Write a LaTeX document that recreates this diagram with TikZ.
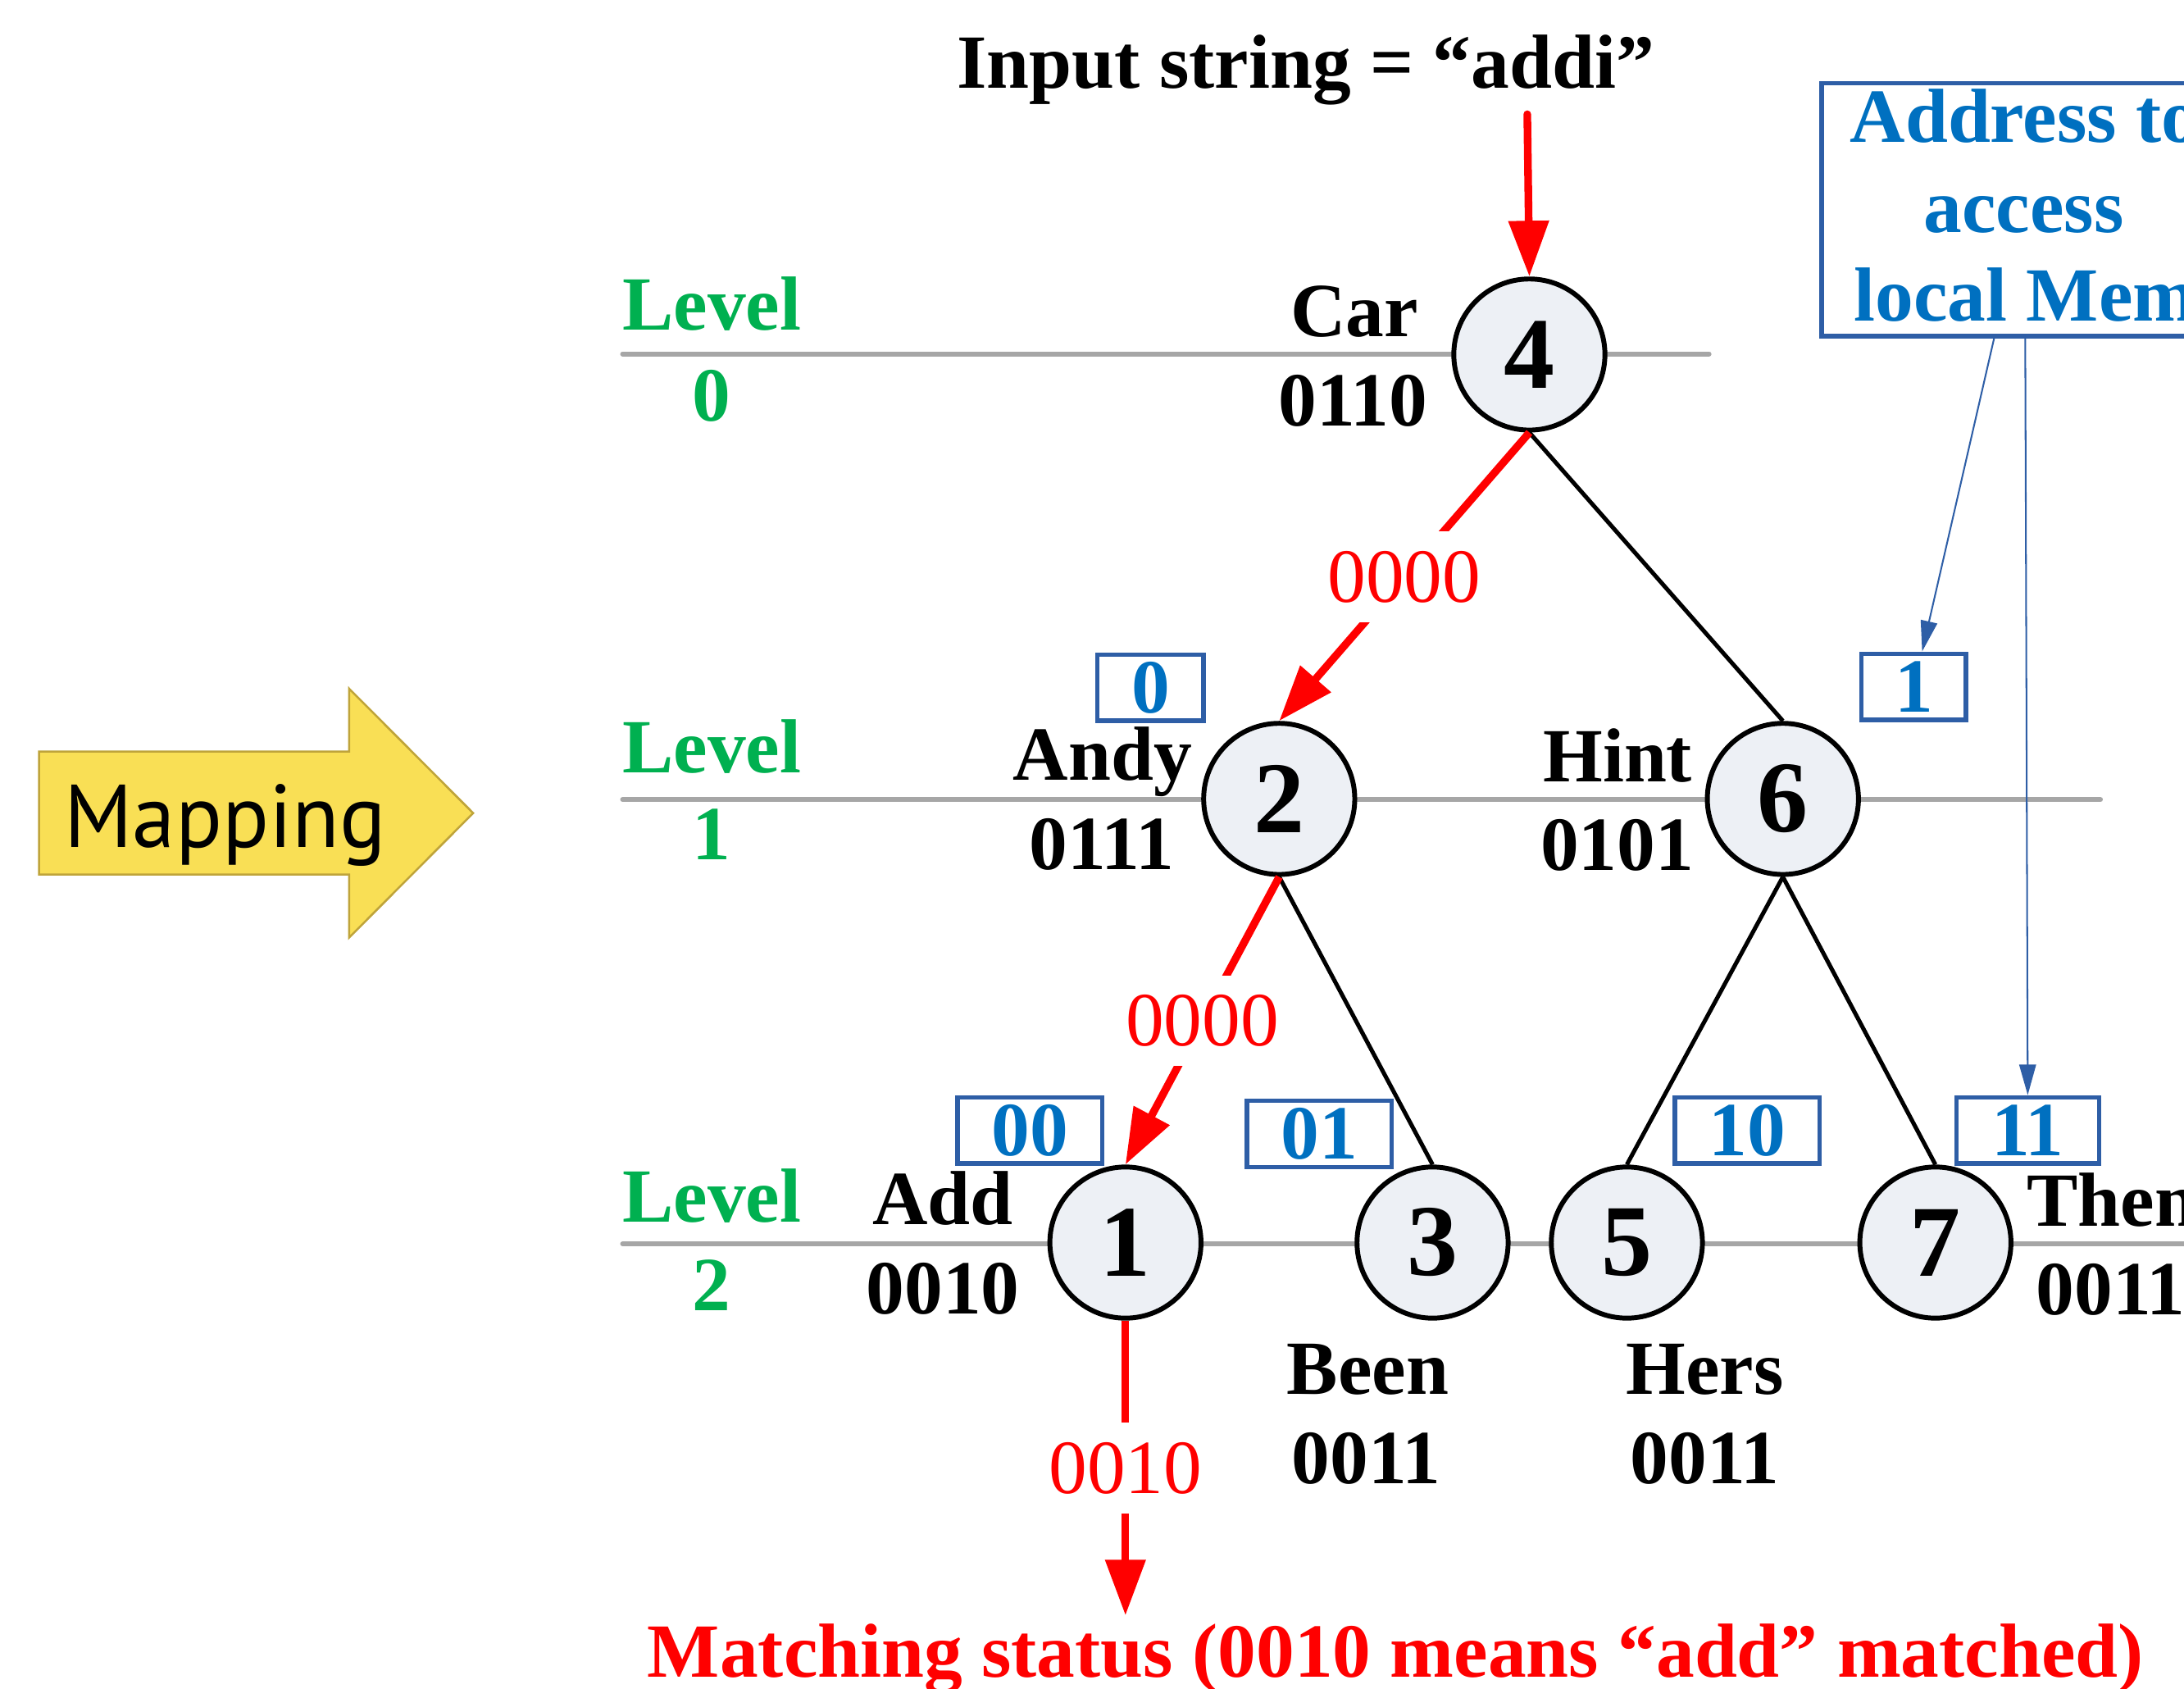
\documentclass[tikz,border=0pt]{standalone}
\usepackage{fontspec}
\setmainfont{Liberation Serif}
\newfontfamily\mapfont{PT Sans}
\usetikzlibrary{arrows.meta,calc}
\definecolor{redc}{HTML}{FF0000}
\definecolor{bluet}{HTML}{0070C0}
\definecolor{blueb}{HTML}{2E5EA6}
\definecolor{greenc}{HTML}{00B050}
\definecolor{grayl}{HTML}{A6A6A6}
\definecolor{nodefill}{HTML}{EDF0F5}
\definecolor{yellowf}{HTML}{F9DF55}
\definecolor{yellowd}{HTML}{BFA43A}
\begin{document}
\begin{tikzpicture}[x=1bp,y=-1bp,
  txt/.style={font=\fontsize{55bp}{60bp}\selectfont\bfseries, inner sep=0pt, anchor=base},
  lvl/.style={txt, text=greenc},
  tree/.style={circle, draw=black, line width=3.5bp, fill=nodefill, minimum size=108.5bp, inner sep=0pt, font=\fontsize{73bp}{80bp}\selectfont\bfseries},
  addr/.style={draw=blueb, line width=3.2bp, text=bluet, font=\fontsize{55bp}{60bp}\selectfont\bfseries, minimum height=47.5bp, inner sep=0pt},
  levelline/.style={draw=grayl, line width=3.5bp, line cap=round},
  redarrow/.style={draw=redc, line width=5.5bp, -{Triangle[length=40bp,width=28bp]}},
  redlabel/.style={fill=white, text=redc, font=\fontsize{55bp}{60bp}\selectfont, inner xsep=2bp, inner ysep=14bp},
  treeedge/.style={draw=black, line width=3bp},
  thinblue/.style={draw=blueb, line width=1.2bp, -{Triangle[length=22bp,width=12bp]}}
]
\clip (0,0) rectangle (1568,1212);

% level lines
\draw[levelline] (447,254) -- (1227,254);
\draw[levelline] (447,574) -- (1508,574);
\draw[levelline] (447,893) -- (1590,893);

% level labels
\node[lvl] (lv0) at (511,237) {Level};
\node[lvl] (lv0n) at (511,302) {0};
\node[lvl] (lv1) at (511,555) {Level};
\node[lvl] (lv1n) at (511,617) {1};
\node[lvl] (lv2) at (511,877) {Level};
\node[lvl] (lv2n) at (511,941) {2};

% Mapping arrow
\draw[fill=yellowf, draw=yellowd, line width=1.5bp] (28,539.5) -- (250.7,539.5) -- (250.7,494.4) -- (339.7,583.7) -- (250.7,673) -- (250.7,627.8) -- (28,627.8) -- cycle;
\node[font=\mapfont\fontsize{64bp}{70bp}\selectfont, anchor=base west, inner sep=0pt, xscale=0.97] (map) at (46,608) {Mapping};

% tree nodes
\node[tree] (n4) at (1098,254.5) {4};
\node[tree] (n2) at (918.4,573.5) {2};
\node[tree] (n6) at (1280,573.5) {6};
\node[tree] (n1) at (808,892) {1};
\node[tree] (n3) at (1028.5,892) {3};
\node[tree] (n5) at (1168,892) {5};
\node[tree] (n7) at (1389.5,892) {7};

% word labels
\node[txt] (car) at (972.5,241.7) {Car};
\node[txt] (carc) at (971.4,305.8) {0110};
\node[txt] (andy) at (791.5,560) {Andy};
\node[txt] (andyc) at (790.8,624) {0111};
\node[txt] (hint) at (1161.4,561) {Hint};
\node[txt] (hintc) at (1161,625) {0101};
\node[txt] (add) at (677,879) {Add};
\node[txt] (addc) at (677,943) {0010};
\node[txt] (been) at (982,1001) {Been};
\node[txt] (beenc) at (981,1065) {0011};
\node[txt] (hers) at (1224,1001) {Hers};
\node[txt] (hersc) at (1224,1065) {0011};
\node[txt, anchor=base west] (then) at (1455,880) {Then};
\node[txt, anchor=base west] (thenc) at (1461.6,944) {0011};

% address boxes
\node[addr, minimum width=76.3bp] (b0) at (826,493.6) {0};
\node[addr, minimum width=75bp] (b1) at (1374,493) {1};
\node[addr, minimum width=104bp] (b00) at (739.5,811.5) {00};
\node[addr, minimum width=104bp] (b01) at (947.2,814) {01};
\node[addr, minimum width=104bp] (b10) at (1254.5,811.5) {10};
\node[addr, minimum width=102.6bp] (b11) at (1455.8,811.5) {11};

% big address box
\node[draw=blueb, line width=3.5bp, minimum width=300bp, minimum height=181.5bp, inner sep=0pt] (abox) at (1457.7,150.5) {};
\node[txt, text=bluet, anchor=base west] (at1) at (1328,102) {Address to};
\node[txt, text=bluet] (at2) at (1453,167) {access};
\node[txt, text=bluet, anchor=base west] (at3) at (1331,230.5) {local Memory};
\coordinate (a1) at (1432,241.3);
\coordinate (a2) at (1454,241.3);
\draw[thinblue] (a1) -- ($(b1.north)+(6,0)$);
\draw[thinblue] (a2) -- (b11.north);

% black edges
\draw[treeedge] (n4.south) -- (n6.north);
\draw[treeedge] (n2.south) -- (n3.north);
\draw[treeedge] (n6.south) -- (n5.north);
\draw[treeedge] (n6.south) -- (n7.north);

% title and input arrow
\node[txt, anchor=base west] (title) at (687,63) {Input string = “addi”};
\coordinate (intop) at (1096.5,82);
\draw[redarrow, line cap=round] (intop) -- (n4.north);

% red search path
\draw[redarrow] (n4.south) -- node[redlabel] (l42) {0000} (n2.north);
\draw[redarrow] (n2.south) -- node[redlabel] (l21) {0000} (n1.north);

% matching status
\node[txt, text=redc] (match) at (1002,1204) {Matching status (0010 means “add” matched)};
\coordinate (mtop) at ($(n1.south |- match.north)+(0,-6)$);
\draw[redarrow] (n1.south) -- node[redlabel] (l1m) {0010} (mtop);
\end{tikzpicture}
\end{document}
